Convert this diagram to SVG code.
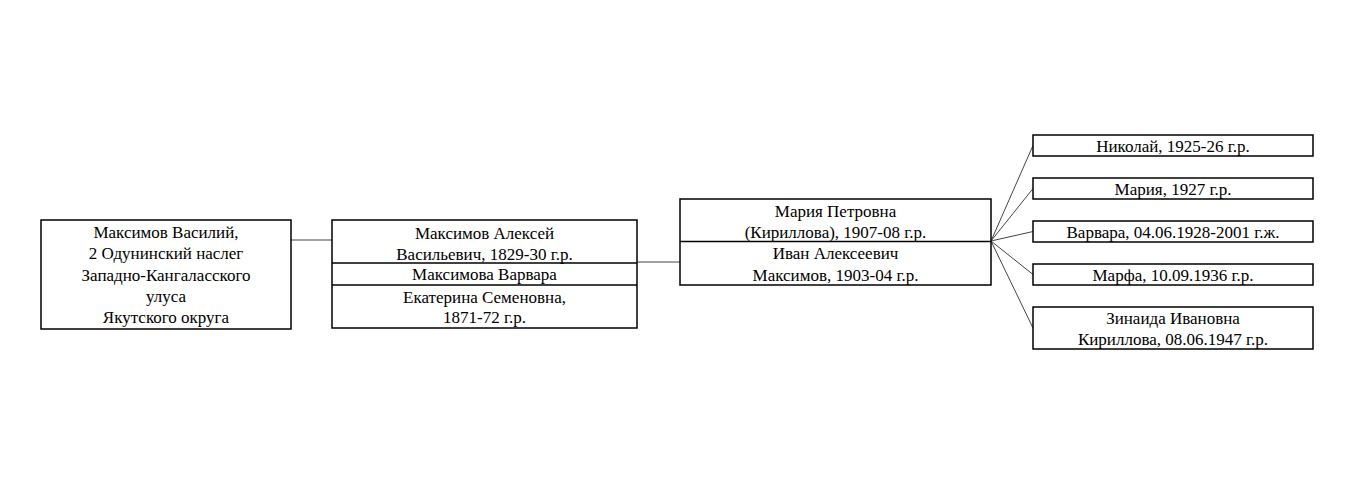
<svg xmlns="http://www.w3.org/2000/svg" width="1345" height="500" viewBox="0 0 1345 500">
<style>
.box{fill:#fff;stroke:#000;stroke-width:1.5}
.div{stroke:#000;stroke-width:1.5}
.t{font-family:"Liberation Serif","Times New Roman",serif;font-size:17px;fill:#000;text-anchor:middle}
.c{stroke:#444;stroke-width:1;fill:none}
</style>
<rect width="1345" height="500" fill="#fff"/>
<g id="connectors">
<line class="c" x1="291" y1="240" x2="332" y2="240"/>
<line class="c" x1="637" y1="262" x2="680" y2="262"/>
<line class="c" x1="991" y1="241" x2="1033" y2="145.5"/>
<line class="c" x1="991" y1="241" x2="1033" y2="188.5"/>
<line class="c" x1="991" y1="241" x2="1033" y2="231.5"/>
<line class="c" x1="991" y1="241" x2="1033" y2="274.5"/>
<line class="c" x1="991" y1="241" x2="1033" y2="328"/>
</g>
<g id="n1">
<rect class="box" x="41" y="220" width="250" height="109"/>
<text class="t" x="166" y="238">Максимов Василий,</text>
<text class="t" x="166" y="259">2 Одунинский наслег</text>
<text class="t" x="166" y="280.5">Западно-Кангаласского</text>
<text class="t" x="166" y="302">улуса</text>
<text class="t" x="166" y="323">Якутского округа</text>
</g>
<g id="n2">
<rect class="box" x="332" y="220" width="305" height="108"/>
<line class="div" x1="332" y1="263" x2="637" y2="263"/>
<line class="div" x1="332" y1="285" x2="637" y2="285"/>
<text class="t" x="484.5" y="239">Максимов Алексей</text>
<text class="t" x="484.5" y="260">Васильевич, 1829-30 г.р.</text>
<text class="t" x="484.5" y="280">Максимова Варвара</text>
<text class="t" x="484.5" y="303">Екатерина Семеновна,</text>
<text class="t" x="484.5" y="323">1871-72 г.р.</text>
</g>
<g id="n3">
<rect class="box" x="680" y="199" width="311" height="86"/>
<line class="div" x1="680" y1="241.5" x2="991" y2="241.5"/>
<text class="t" x="835.5" y="217">Мария Петровна</text>
<text class="t" x="835.5" y="238">(Кириллова), 1907-08 г.р.</text>
<text class="t" x="835.5" y="259">Иван Алексеевич</text>
<text class="t" x="835.5" y="280.5">Максимов, 1903-04 г.р.</text>
</g>
<g id="c1">
<rect class="box" x="1033" y="135" width="280" height="21"/>
<text class="t" x="1173" y="151.5">Николай, 1925-26 г.р.</text>
</g>
<g id="c2">
<rect class="box" x="1033" y="178" width="280" height="21"/>
<text class="t" x="1173" y="194.5">Мария, 1927 г.р.</text>
</g>
<g id="c3">
<rect class="box" x="1033" y="221" width="280" height="21"/>
<text class="t" x="1173" y="237.5">Варвара, 04.06.1928-2001 г.ж.</text>
</g>
<g id="c4">
<rect class="box" x="1033" y="264" width="280" height="21"/>
<text class="t" x="1173" y="280.5">Марфа, 10.09.1936 г.р.</text>
</g>
<g id="c5">
<rect class="box" x="1033" y="307" width="280" height="42"/>
<text class="t" x="1173" y="324">Зинаида Ивановна</text>
<text class="t" x="1173" y="345">Кириллова, 08.06.1947 г.р.</text>
</g>
</svg>
